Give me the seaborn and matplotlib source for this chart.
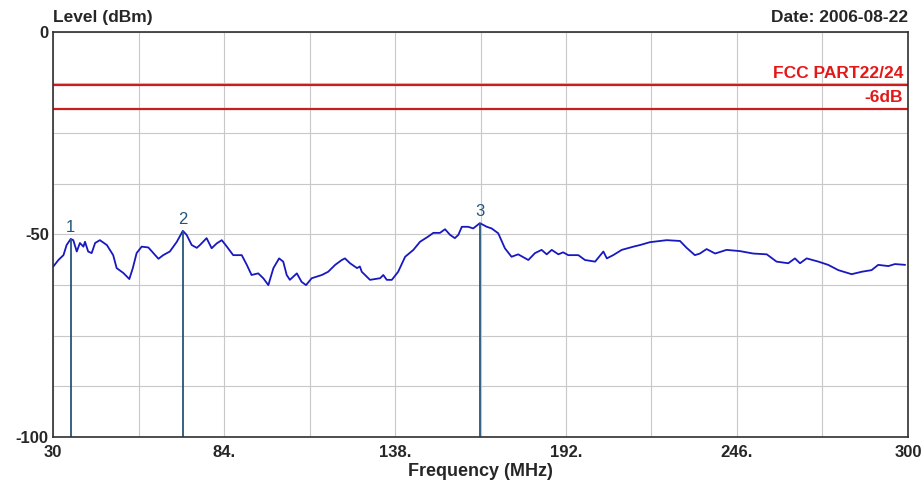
import matplotlib
matplotlib.use("Agg")
import pandas as pd
import seaborn as sns
import matplotlib.pyplot as plt

# trace
freq_mhz = [30.1, 31.7, 33.3, 34.3, 35.6, 36.4, 37.5, 38.5, 39.6, 40.1, 41.1, 42.2, 43.3,
            44.8, 47.0, 49.0, 50.1, 52.2, 54.1, 55.2, 56.4, 58.0, 60.1, 61.7, 63.3, 64.8,
            66.9, 69.1, 71.0, 72.2, 73.8, 75.4,
            76.4, 78.5, 80.1, 81.7, 83.3, 84.9, 86.9, 89.6, 91.2, 92.7, 94.8, 96.4, 98.0,
            99.6, 101.4, 102.7, 103.8, 104.8, 107.0, 108.5, 109.9, 111.7, 114.9, 116.9,
            119.1, 121.2, 122.2,
            123.8, 126.0, 126.9, 127.5, 130.1, 133.3, 134.3, 135.4, 137.0, 139.0, 141.2,
            143.8, 145.9, 148.5, 150.1, 152.2, 153.8, 155.4, 156.9, 158.0, 159.1, 161.1,
            162.7, 164.8, 167.0,
            168.5, 170.6, 172.7, 174.8, 176.9, 180.1, 182.2, 184.3, 185.9, 187.5, 189.6,
            191.1, 192.7, 195.9, 198.0, 201.2, 203.8, 204.9, 206.9, 209.6, 213.3,
            215.4, 218.5, 223.8, 228.0, 230.1, 232.7, 234.3, 236.4, 239.1, 242.7, 246.9,
            251.1, 255.4, 258.5,
            262.2, 264.3, 265.9, 268.0, 271.7, 274.8, 278.0, 282.2, 285.4, 288.5, 290.6,
            293.8, 295.9, 299.1]
level_dbm = [-57.9, -56.3, -55.1, -52.6, -51.1, -51.4, -54.2, -52.1, -53.0, -51.8, -54.2,
             -54.6, -52.1, -51.4, -52.6, -55.1, -58.3, -59.5, -61.0, -58.3, -54.6, -53.0,
             -53.2, -54.6, -56.0, -55.1, -54.2, -51.8, -49.1, -50.1, -52.6, -53.3,
             -52.6, -50.9, -53.4, -52.2, -51.4, -53.0, -55.1, -55.1, -57.5, -60.0, -59.6,
             -60.8, -62.5, -58.3, -55.9, -56.7, -60.0, -61.2, -59.6, -61.7, -62.5, -60.8,
             -60.0, -59.2, -57.5, -56.3, -55.9,
             -57.1, -58.3, -57.9, -59.2, -61.2, -60.8, -60.0, -61.2, -61.2, -59.2, -55.5,
             -53.8, -51.8, -50.5, -49.6, -49.6, -48.7, -50.1, -50.9, -50.1, -48.1, -48.1,
             -48.5, -47.2, -48.1,
             -48.5, -49.7, -53.4, -55.5, -54.9, -56.3, -54.6, -53.8, -54.9, -53.8, -54.9,
             -54.4, -55.1, -55.1, -56.3, -56.7, -54.2, -55.9, -55.1, -53.8, -53.0,
             -52.6, -51.9, -51.4, -51.6, -53.3, -55.1, -54.7, -53.6, -54.7, -53.8, -54.1,
             -54.7, -54.9, -56.7,
             -57.1, -55.9, -57.1, -55.9, -56.7, -57.5, -58.8, -59.8, -59.2, -58.8, -57.5,
             -57.8, -57.3, -57.5]

marker_ids = ["1", "2", "3"]
marker_freq = [35.6, 71.0, 164.8]
marker_level = [-51.1, -49.1, -47.2]

limit_names = ["FCC PART22/24", "-6dB"]
limit_levels = [-13, -19]

x_grid = [30, 57, 84, 111, 138, 165, 192, 219, 246, 273, 300]
x_labels = ["30", "", "84.", "", "138.", "", "192.", "", "246.", "", "300"]
y_grid = [0, -12.5, -25, -37.5, -50, -62.5, -75, -87.5, -100]
y_labels = ["0", "", "", "", "-50", "", "", "", "-100"]

df = pd.DataFrame({"freq": freq_mhz, "level": level_dbm})

sns.set_style("whitegrid", {"grid.color": "#c8c8c8", "axes.edgecolor": "#303030"})
plt.rcParams["font.family"] = ["Liberation Sans", "DejaVu Sans"]

fig = plt.figure(figsize=(9.22, 4.87), dpi=100)
ax = fig.add_axes([0.0575, 0.1027, 0.9273, 0.8316])

sns.lineplot(data=df, x="freq", y="level", color="#1818c0", linewidth=1.3, ax=ax)

for name, lvl in zip(limit_names, limit_levels):
    ax.axhline(lvl, color="#c81e1e", linewidth=1.6)
    ax.text(298.5, lvl + 0.9, name, color="#e41818", fontsize=12.5, fontweight="bold",
            ha="right", va="bottom")

ax.vlines(marker_freq, -100, marker_level, color="#24557a", linewidth=1.3)
for mid, f, lvl in zip(marker_ids, marker_freq, marker_level):
    ax.text(f, lvl + 1.0, mid, color="#24557a", fontsize=12, ha="center", va="bottom")

ax.set_xlim(30, 300)
ax.set_ylim(-100, 0)
ax.set_xticks(x_grid)
ax.set_xticklabels(x_labels, fontsize=12, fontweight="bold")
ax.set_yticks(y_grid)
ax.set_yticklabels(y_labels, fontsize=12, fontweight="bold")
ax.tick_params(axis="x", length=0, pad=6)
ax.tick_params(axis="y", length=0, pad=3)
for s in ax.spines.values():
    s.set_linewidth(1.2)

ax.set_xlabel("Frequency (MHz)", fontsize=13, fontweight="bold", labelpad=2)
ax.set_ylabel("")
fig.text(0.057, 0.98, "Level (dBm)", fontsize=12.5, fontweight="bold", ha="left", va="top")
fig.text(0.985, 0.98, "Date: 2006-08-22", fontsize=12.5, fontweight="bold", ha="right", va="top")

fig.savefig("out.png", dpi=100, facecolor="white")
